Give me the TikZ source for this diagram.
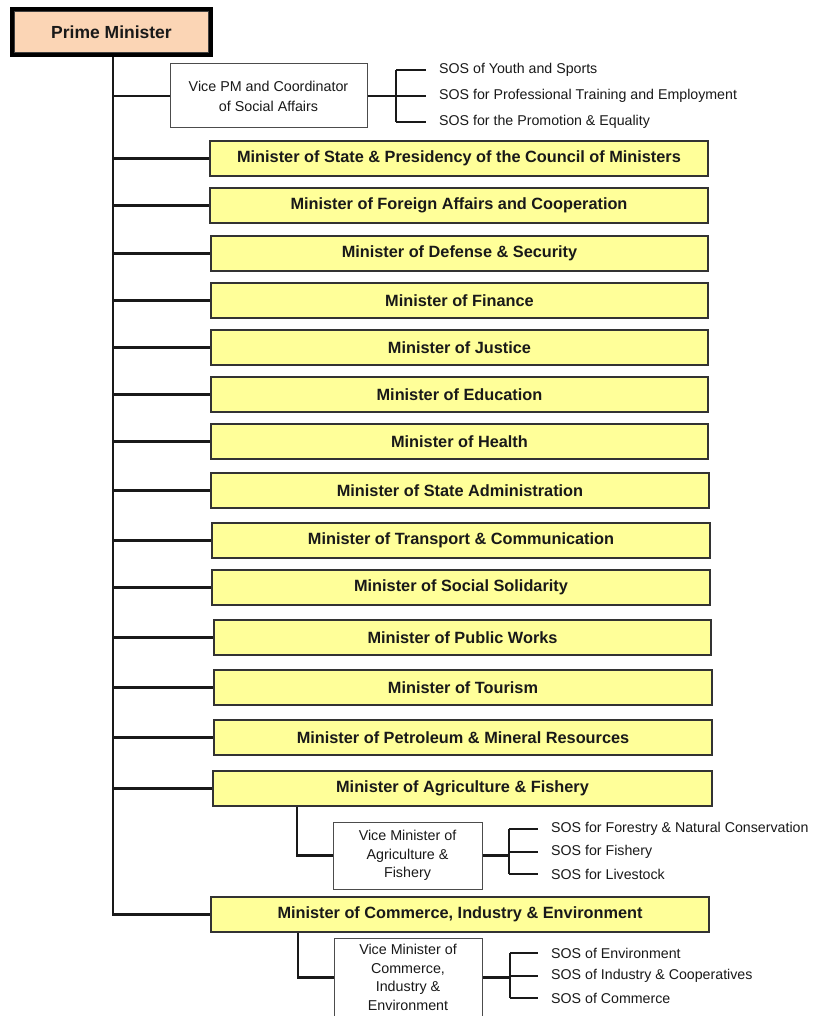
\documentclass[tikz,border=0pt]{standalone}
\usepackage{fontspec}
\setmainfont{Liberation Sans}
\definecolor{ylw}{RGB}{255,255,153}
\definecolor{peach}{RGB}{251,213,181}
\definecolor{ink}{RGB}{25,25,25}
\newcommand\myMfont{\fontsize{16.3}{19}\selectfont\bfseries}
\newcommand\myPfont{\fontsize{17.5}{20}\selectfont\bfseries}
\newcommand\myVfont{\fontsize{14.3}{18.6}\selectfont}
\newcommand\mySfont{\fontsize{14.2}{17}\selectfont}
\begin{document}
\begin{tikzpicture}[x=1pt,y=-1pt,
  conn/.style={line width=2.8pt, draw=ink},
  mbox/.style={draw=black!80, line width=1.3pt, fill=ylw, inner sep=0pt, text=ink, font=\myMfont, minimum height=35pt},
  vbox/.style={draw=black!70, line width=1pt, fill=white, align=center, inner sep=0pt, text=ink, font=\myVfont},
  sos/.style={anchor=west, inner sep=0pt, text=ink, font=\mySfont},
  pmbox/.style={draw=black, line width=4pt, fill=peach, inner sep=0pt, text=ink, font=\myPfont, minimum width=199pt, minimum height=46pt}
]
\useasboundingbox (0,0) rectangle (812,1016);
\fill[white] (0,0) rectangle (812,1016);

% Prime Minister
\node[pmbox] (pm) at (111.5,32) {Prime Minister};
\draw[black!75, line width=0.9pt] ([shift={(4.5pt,-4.5pt)}]pm.north west) rectangle ([shift={(-4.5pt,4.5pt)}]pm.south east);
\coordinate (t0) at (113,57);

% Vice PM
\node[vbox, minimum width=197pt, minimum height=64pt, font=\fontsize{14.3}{20}\selectfont] (vpm) at (268.5,96) {Vice PM and Coordinator\\of Social Affairs};
\node[sos] (s1) at (439,70) {SOS of Youth and Sports};
\node[sos] (s2) at (439,96) {SOS for Professional Training and Employment};
\node[sos] (s3) at (439,122) {SOS for the Promotion \& Equality};
\coordinate (bx1) at (396,96);

% Ministers
\node[mbox, minimum width=498pt] (m1) at (459,158.5) {Minister of State \& Presidency of the Council of Ministers};
\node[mbox, minimum width=498pt] (m2) at (459,205.5) {Minister of Foreign Affairs and Cooperation};
\node[mbox, minimum width=497pt] (m3) at (459.5,253.5) {Minister of Defense \& Security};
\node[mbox, minimum width=497pt] (m4) at (459.5,300.5) {Minister of Finance};
\node[mbox, minimum width=497pt] (m5) at (459.5,347.5) {Minister of Justice};
\node[mbox, minimum width=497pt] (m6) at (459.5,394.5) {Minister of Education};
\node[mbox, minimum width=497pt] (m7) at (459.5,441.5) {Minister of Health};
\node[mbox, minimum width=498pt] (m8) at (460,490.5) {Minister of State Administration};
\node[mbox, minimum width=498pt] (m9) at (461,540.5) {Minister of Transport \& Communication};
\node[mbox, minimum width=498pt] (m10) at (461,587.5) {Minister of Social Solidarity};
\node[mbox, minimum width=497pt] (m11) at (462.5,637.5) {Minister of Public Works};
\node[mbox, minimum width=498pt] (m12) at (463,687.5) {Minister of Tourism};
\node[mbox, minimum width=498pt] (m13) at (463,737.5) {Minister of Petroleum \& Mineral Resources};
\node[mbox, minimum width=499pt] (m14) at (462.5,788.5) {Minister of Agriculture \& Fishery};
\node[mbox, minimum width=498pt] (m15) at (460,914.5) {Minister of Commerce, Industry \& Environment};

% Agriculture vice
\node[vbox, minimum width=149pt, minimum height=67pt] (va) at (407.5,855.5) {Vice Minister of\\Agriculture \&\\Fishery};
\node[sos] (a1) at (551,829) {SOS for Forestry \& Natural Conservation};
\node[sos] (a2) at (551,852) {SOS for Fishery};
\node[sos] (a3) at (551,874) {SOS for Livestock};
\coordinate (agx) at (297,807);
\coordinate (bx2) at (509,852);

% Commerce vice
\node[vbox, minimum width=148pt, minimum height=79pt] (vc) at (408,977.5) {Vice Minister of\\Commerce,\\Industry \&\\Environment};
\node[sos] (c1) at (551,953) {SOS of Environment};
\node[sos] (c2) at (551,976) {SOS of Industry \& Cooperatives};
\node[sos] (c3) at (551,998) {SOS of Commerce};
\coordinate (cmx) at (298,933);
\coordinate (bx3) at (510,978);

% Connectors
\draw[conn] (pm.south -| t0) |- (m15.west);
\draw[conn] (vpm.west -| t0) -- (vpm.west);
\foreach \i in {1,...,14} \draw[conn] (m\i.west -| t0) -- (m\i.west);

\draw[conn] (vpm.east) -- (vpm.east -| bx1);
\draw[conn] (s1.west -| bx1) -- (s3.west -| bx1);
\foreach \s in {s1,s2,s3} \draw[conn, shorten >=13pt] (\s.west -| bx1) -- (\s.west);

\draw[conn] (m14.south -| agx) |- (va.west);
\draw[conn] (va.east) -- (va.east -| bx2);
\draw[conn] (a1.west -| bx2) -- (a3.west -| bx2);
\foreach \s in {a1,a2,a3} \draw[conn, shorten >=13pt] (\s.west -| bx2) -- (\s.west);

\draw[conn] (m15.south -| cmx) |- (vc.west);
\draw[conn] (vc.east) -- (vc.east -| bx3);
\draw[conn] (c1.west -| bx3) -- (c3.west -| bx3);
\foreach \s in {c1,c2,c3} \draw[conn, shorten >=13pt] (\s.west -| bx3) -- (\s.west);
\end{tikzpicture}
\end{document}
